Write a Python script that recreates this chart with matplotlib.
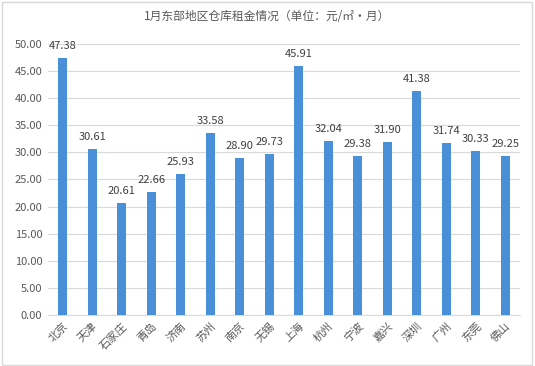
import matplotlib.pyplot as plt
from matplotlib.patches import Rectangle

plt.rcParams['font.family'] = ['Noto Sans CJK SC', 'DejaVu Sans']

cities = ['北京', '天津', '石家庄', '青岛', '济南', '苏州', '南京', '无锡',
          '上海', '杭州', '宁波', '嘉兴', '深圳', '广州', '东莞', '佛山']
rents = [47.38, 30.61, 20.61, 22.66, 25.93, 33.58, 28.90, 29.73,
         45.91, 32.04, 29.38, 31.90, 41.38, 31.74, 30.33, 29.25]
yticks = [0, 5, 10, 15, 20, 25, 30, 35, 40, 45, 50]

fig = plt.figure(figsize=(5.35, 3.66), dpi=100)
ax = fig.add_axes([48 / 535, 51 / 366, 472 / 535, 271 / 366])

x = range(len(cities))
ax.bar(x, rents, width=0.3, color='#4a90d9', zorder=3)
for i, v in enumerate(rents):
    ax.text(i, v + 1.3, f'{v:.2f}', ha='center', va='bottom', fontsize=8, color='#404040')

ax.set_xlim(-0.5, len(cities) - 0.5)
ax.set_ylim(0, 50)
ax.set_yticks(yticks)
ax.set_yticklabels([f'{t:.2f}' for t in yticks], fontsize=8, color='#595959')
ax.set_xticks(list(x))
ax.set_xticklabels(cities, rotation=45, ha='right', rotation_mode='anchor',
                   fontsize=8, color='#595959')
ax.tick_params(length=0, pad=4)
ax.grid(axis='y', color='#d9d9d9', linewidth=0.8, zorder=0)
for s in ['top', 'right', 'left']:
    ax.spines[s].set_visible(False)
ax.spines['bottom'].set_color('#d9d9d9')

fig.text(0.5, 1 - 16 / 366, '1月东部地区仓库租金情况（单位：元/㎡·月）', ha='center', va='center',
         fontsize=8.5, color='#595959')
fig.patches.append(Rectangle((0.004, 0.004), 0.99, 0.99, transform=fig.transFigure,
                             fill=False, edgecolor='#d9d9d9', linewidth=1))

fig.savefig('out.png', dpi=100)
